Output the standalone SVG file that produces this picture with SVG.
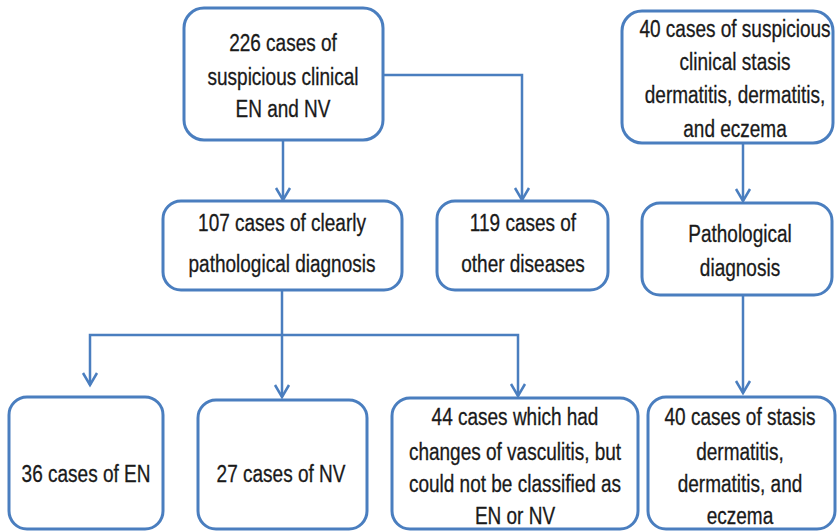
<svg xmlns="http://www.w3.org/2000/svg" width="839" height="532" viewBox="0 0 839 532">
<defs>
<style>
.box{fill:#ffffff;stroke:#4a7ebf;stroke-width:3}
.con{fill:none;stroke:#4a7ebf;stroke-width:2.5}
.t{font-family:"Liberation Sans",Arial,sans-serif;font-size:19px;fill:#1a1a1a;stroke:#1a1a1a;stroke-width:0.25;text-anchor:middle}
</style>
<marker id="arr" markerUnits="userSpaceOnUse" markerWidth="30" markerHeight="30" refX="0" refY="0" orient="auto" overflow="visible">
<path d="M-12,-7 L0,0 L-12,7" fill="none" stroke="#4a7ebf" stroke-width="2.5" stroke-linejoin="miter"/>
</marker>
</defs>
<rect width="839" height="532" fill="#ffffff"/>
<g id="connectors">
<path class="con" d="M283,140 V200" marker-end="url(#arr)"/>
<path class="con" d="M383,75 H522 V200" marker-end="url(#arr)"/>
<path class="con" d="M282,290 V397" marker-end="url(#arr)"/>
<path class="con" d="M282,335 H90 V385" marker-end="url(#arr)"/>
<path class="con" d="M282,335 H518 V396" marker-end="url(#arr)"/>
<path class="con" d="M743,143 V201" marker-end="url(#arr)"/>
<path class="con" d="M743,295 V393" marker-end="url(#arr)"/>
</g>
<g id="n226">
<rect class="box" x="184" y="8" width="199" height="132" rx="20"/>
<text class="t" transform="matrix(1,0,0,1.25,283,51)">226 cases of</text>
<text class="t" transform="matrix(1,0,0,1.25,283,85)">suspicious clinical</text>
<text class="t" transform="matrix(1,0,0,1.25,283,117)">EN and NV</text>
</g>
<g id="n107">
<rect class="box" x="163" y="201" width="239" height="89" rx="18"/>
<text class="t" transform="matrix(1,0,0,1.25,282,231)">107 cases of clearly</text>
<text class="t" transform="matrix(1,0,0,1.25,282,272)">pathological diagnosis</text>
</g>
<g id="n119">
<rect class="box" x="437" y="201" width="171" height="89" rx="18"/>
<text class="t" transform="matrix(1,0,0,1.25,523,231)">119 cases of</text>
<text class="t" transform="matrix(1,0,0,1.25,523,272)">other diseases</text>
</g>
<g id="n40s">
<rect class="box" x="622" y="11" width="211" height="132" rx="20"/>
<text class="t" transform="matrix(1,0,0,1.25,735,37)">40 cases of suspicious</text>
<text class="t" transform="matrix(1,0,0,1.25,735,70)">clinical stasis</text>
<text class="t" transform="matrix(1,0,0,1.25,735,103)">dermatitis, dermatitis,</text>
<text class="t" transform="matrix(1,0,0,1.25,735,137)">and eczema</text>
</g>
<g id="npath">
<rect class="box" x="642" y="203" width="190" height="92" rx="18"/>
<text class="t" transform="matrix(1,0,0,1.25,740,242)">Pathological</text>
<text class="t" transform="matrix(1,0,0,1.25,740,276)">diagnosis</text>
</g>
<g id="nEN">
<rect class="box" x="9" y="397" width="154" height="132" rx="18"/>
<text class="t" transform="matrix(1,0,0,1.25,86,482)">36 cases of EN</text>
</g>
<g id="nNV">
<rect class="box" x="198" y="400" width="169" height="129" rx="18"/>
<text class="t" transform="matrix(1,0,0,1.25,281,482)">27 cases of NV</text>
</g>
<g id="n44">
<rect class="box" x="392" y="398" width="246" height="131" rx="18"/>
<text class="t" transform="matrix(1,0,0,1.25,515,425)">44 cases which had</text>
<text class="t" transform="matrix(1,0,0,1.25,515,460)">changes of vasculitis, but</text>
<text class="t" transform="matrix(1,0,0,1.25,515,492)">could not be classified as</text>
<text class="t" transform="matrix(1,0,0,1.25,515,524)">EN or NV</text>
</g>
<g id="n40r">
<rect class="box" x="648" y="397" width="187" height="132" rx="18"/>
<text class="t" transform="matrix(1,0,0,1.25,740,425)">40 cases of stasis</text>
<text class="t" transform="matrix(1,0,0,1.25,740,460)">dermatitis,</text>
<text class="t" transform="matrix(1,0,0,1.25,740,492)">dermatitis, and</text>
<text class="t" transform="matrix(1,0,0,1.25,740,524)">eczema</text>
</g>
</svg>
